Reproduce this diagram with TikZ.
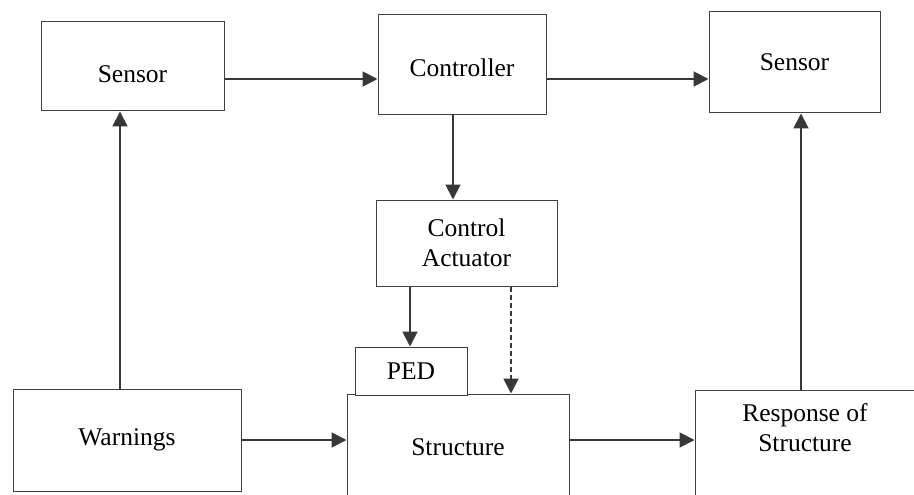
\documentclass[tikz,border=0pt]{standalone}
\usepackage{fontspec}
\setmainfont{Liberation Serif}
\usetikzlibrary{arrows.meta}
\tikzset{
	block/.style={draw=black!75, line width=1pt, fill=white, inner sep=0pt, font=\fontsize{25.5}{30}\selectfont},
	link/.style={draw=black!78, line width=1.9pt, -{Triangle[length=15pt,width=15pt]}},
	dashlink/.style={link, dash pattern=on 5pt off 3pt}
}

\begin{document}
\begin{tikzpicture}[x=1pt, y=-1pt]
		%%%%% FRAME %%%%%
		\useasboundingbox (0, 0) rectangle (914, 495);
		\clip (0, 0) rectangle (914, 495);
		\fill[white] (0, 0) rectangle (914, 495);
		
		%%%%% BOXES %%%%%
		\node[block, minimum width=183, minimum height=89, text height=33, text depth=0] (sensorL) at (132.5, 66.5) {Sensor};
		\node[block, minimum width=168, minimum height=100, text height=24, text depth=0] (ctrl) at (462, 65) {Controller};
		\node[block, minimum width=171, minimum height=101] (sensorR) at (794.5, 62.5) {Sensor};
		\node[block, minimum width=181, minimum height=86, align=center] (act) at (466.5, 243) {Control\\Actuator};
		
		\node[block, minimum width=228, minimum height=102] (warn) at (127, 440) {Warnings};
		\node[block, minimum width=222, minimum height=106] (struct) at (458, 447) {Structure};
		\node[block, minimum width=112, minimum height=48] (ped) at (411, 371) {PED};
		\node[block, minimum width=240, minimum height=120] (resp) at (815, 450) {};
		\node[font=\fontsize{25.5}{30}\selectfont, align=center] (respT) at (805, 428) {Response of\\Structure};
		
		%%%%% CONNECTORS %%%%%
		\draw[link] (sensorL.east |- 0, 79) -- (ctrl.west |- 0, 79);
		\draw[link] (ctrl.east |- 0, 79) -- (sensorR.west |- 0, 79);
		\draw[link] (ctrl.south -| 453, 0) -- (act.north -| 453, 0);
		
		\draw[link] (warn.north -| 120, 0) -- (sensorL.south -| 120, 0);
		\draw[link] (resp.north -| 801, 0) -- (sensorR.south -| 801, 0);
		
		\draw[link] (warn.east |- 0, 440) -- (struct.west |- 0, 440);
		\draw[link] (struct.east |- 0, 440) -- (resp.west |- 0, 440);
		
		\draw[link] (act.south -| 410, 0) -- (ped.north -| 410, 0);
		\draw[dashlink] (act.south -| 511, 0) -- (struct.north -| 511, 0);
		
		%%%%% END %%%%%
	\end{tikzpicture}
\end{document}
